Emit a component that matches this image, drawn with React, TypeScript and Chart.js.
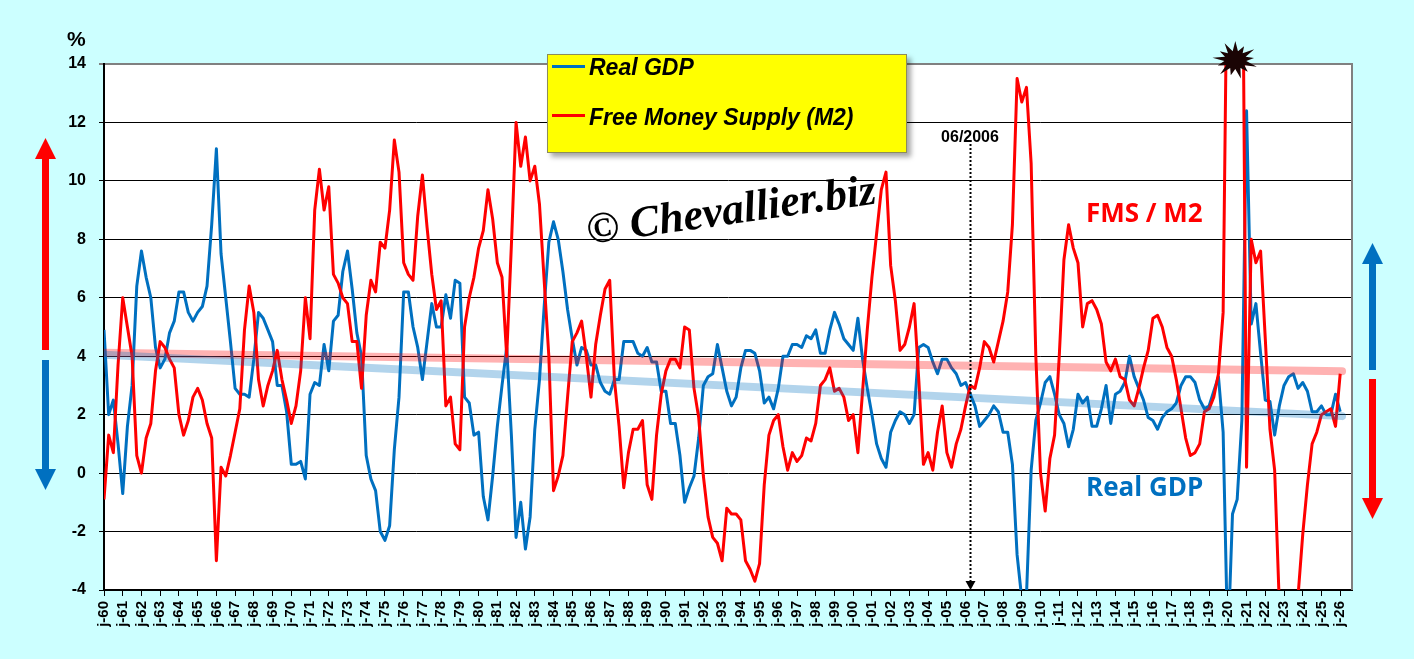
import { Chart, registerables } from "chart.js";
import { useEffect, useRef } from "react";

Chart.register(...registerables);

// Year-on-year growth in %, one reading per quarter, first reading = Q1 1960
const FIRST_YEAR = 1960;
const STEP = 0.25;

const gdp1960s = [
  4.9, 2.0, 2.5, 1.0, -0.7, 1.6, 3.0, 6.4, 7.6, 6.7, 6.0, 4.3, 3.6, 3.9, 4.8, 5.2, 6.2, 6.2, 5.5, 5.2,
  5.5, 5.7, 6.4, 8.5, 11.1, 7.5, 6.0, 4.5, 2.9, 2.7, 2.7, 2.6, 3.9, 5.5, 5.3, 4.9, 4.5, 3.0, 3.0, 2.1,
];
const gdp1970s = [
  0.3, 0.3, 0.4, -0.2, 2.7, 3.1, 3.0, 4.4, 3.5, 5.2, 5.4, 6.9, 7.6, 6.3, 4.8, 4.0, 0.6, -0.2, -0.6, -2.0,
  -2.3, -1.8, 0.8, 2.6, 6.2, 6.2, 5.0, 4.3, 3.2, 4.5, 5.8, 5.0, 5.0, 6.1, 5.3, 6.6, 6.5, 2.6, 2.4, 1.3,
];
const gdp1980s = [
  1.4, -0.8, -1.6, -0.1, 1.6, 3.0, 4.3, 1.3, -2.2, -1.0, -2.6, -1.5, 1.5, 3.2, 5.7, 7.9, 8.6, 8.0, 6.9, 5.6,
  4.6, 3.7, 4.3, 4.2, 3.7, 3.7, 3.1, 2.8, 2.7, 3.2, 3.2, 4.5, 4.5, 4.5, 4.1, 4.0, 4.3, 3.8, 3.8, 2.8,
];
const gdp1990s = [
  2.8, 1.7, 1.7, 0.6, -1.0, -0.5, -0.1, 1.2, 3.0, 3.3, 3.4, 4.4, 3.6, 2.8, 2.3, 2.6, 3.6, 4.2, 4.2, 4.1,
  3.5, 2.4, 2.6, 2.2, 2.9, 4.0, 4.0, 4.4, 4.4, 4.3, 4.7, 4.6, 4.9, 4.1, 4.1, 4.9, 5.5, 5.1, 4.6, 4.4,
];
const gdp2000s = [
  4.2, 5.3, 3.9, 2.9, 2.0, 1.0, 0.5, 0.2, 1.4, 1.8, 2.1, 2.0, 1.7, 2.0, 4.3, 4.4, 4.3, 3.8, 3.4, 3.9,
  3.9, 3.6, 3.4, 3.0, 3.1, 2.7, 2.3, 1.6, 1.8, 2.0, 2.3, 2.1, 1.4, 1.4, 0.3, -2.8, -4.3, -4.2, 0.1, 1.8,
];
const gdp2010s = [
  2.4, 3.1, 3.3, 2.7, 2.0, 1.7, 0.9, 1.5, 2.7, 2.4, 2.6, 1.6, 1.6, 2.2, 3.0, 1.7, 2.7, 2.8, 3.1, 4.0,
  3.3, 2.9, 2.5, 1.9, 1.8, 1.5, 1.9, 2.1, 2.2, 2.4, 3.0, 3.3, 3.3, 3.1, 2.5, 2.2, 2.3, 2.8, 3.3, 1.4,
];
const gdp2020s = [
  -6.0, -1.4, -0.9, 1.8, 12.4, 5.1, 5.8, 4.1, 2.5, 2.45, 1.3, 2.3, 3.0, 3.3, 3.4, 2.9, 3.1, 2.8, 2.1, 2.1,
  2.3, 2.0, 2.0, 2.7, 2.1,
];

const m21960s = [
  -0.9, 1.3, 0.7, 3.7, 6.0, 5.0, 4.0, 0.6, 0.0, 1.2, 1.7, 3.5, 4.5, 4.3, 3.9, 3.6, 2.0, 1.3, 1.8, 2.6,
  2.9, 2.5, 1.7, 1.2, -3.0, 0.2, -0.1, 0.6, 1.4, 2.2, 4.9, 6.4, 5.5, 3.2, 2.3, 3.0, 3.5, 4.2, 3.2, 2.5,
];
const m21970s = [
  1.7, 2.3, 3.5, 6.0, 4.6, 9.0, 10.4, 9.0, 9.8, 6.8, 6.5, 6.0, 5.8, 4.5, 4.5, 2.9, 5.4, 6.6, 6.2, 7.9,
  7.7, 9.0, 11.4, 10.3, 7.2, 6.8, 6.6, 8.8, 10.2, 8.4, 6.8, 5.6, 5.9, 2.3, 2.6, 1.0, 0.8, 5.0, 6.0, 6.7,
];
const m21980s = [
  7.7, 8.3, 9.7, 8.7, 7.2, 6.7, 4.0, 7.8, 12.0, 10.5, 11.5, 10.0, 10.5, 9.2, 6.6, 4.0, -0.6, -0.1, 0.6, 2.6,
  4.5, 4.8, 5.2, 4.0, 2.6, 4.4, 5.4, 6.3, 6.6, 3.2, 1.6, -0.5, 0.7, 1.5, 1.5, 1.8, -0.4, -0.9, 1.3, 2.7,
];
const m21990s = [
  3.5, 3.9, 3.9, 3.6, 5.0, 4.9, 2.9, 1.9, -0.1, -1.5, -2.2, -2.4, -3.0, -1.2, -1.4, -1.4, -1.6, -3.0, -3.3, -3.7,
  -3.1, -0.4, 1.3, 1.8, 2.0, 0.9, 0.1, 0.7, 0.4, 0.6, 1.2, 1.1, 1.7, 3.0, 3.2, 3.6, 2.8, 2.9, 2.6, 1.8,
];
const m22000s = [
  2.0, 0.7, 2.8, 4.9, 6.7, 8.2, 9.7, 10.3, 7.1, 5.9, 4.2, 4.4, 5.0, 5.8, 3.2, 0.3, 0.7, 0.1, 1.4, 2.3,
  0.7, 0.2, 1.0, 1.5, 2.3, 3.0, 2.9, 3.6, 4.5, 4.3, 3.8, 4.5, 5.2, 6.2, 8.5, 13.5, 12.7, 13.2, 10.6, 4.0,
];
const m22010s = [
  0.0, -1.3, 0.5, 1.3, 4.0, 7.3, 8.5, 7.7, 7.2, 5.0, 5.8, 5.9, 5.6, 5.1, 3.8, 3.5, 3.9, 3.3, 3.2, 2.5,
  2.3, 2.9, 3.6, 4.2, 5.3, 5.4, 5.0, 4.3, 4.0, 3.2, 2.2, 1.2, 0.6, 0.7, 1.0, 2.1, 2.2, 2.6, 3.4, 5.5,
];
const m22020s = [
  20.0, 25.0, 24.0, 22.0, 0.2, 8.0, 7.2, 7.6, 4.6, 1.5, 0.1, -4.5, -8.0, -10.0, -8.0, -4.2, -2.1, -0.4, 1.0, 1.4,
  2.0, 2.1, 2.2, 1.6, 3.4,
];

// long-run trend lines (start / end)
const trendYears = [1960, 2026.1];
const gdpTrend = [4.05, 1.95];
const m2Trend = [4.12, 3.49];

const X_MIN = 1960;
const X_MAX = 2026.63;
const Y_MIN = -4;
const Y_MAX = 14;
const Y_STEP = 2;

const MARK_YEAR = 2006.25;
const MARK_LABEL = "06/2006";
const STAR_YEAR = 2020.4;

const BLUE = "#0070C0";
const RED = "#FF0000";
const SANS = "'Liberation Sans', Arial, sans-serif";

const toPoints = (values: number[]) => values.map((y, i) => ({ x: FIRST_YEAR + i * STEP, y }));
const trendPoints = (values: number[]) => values.map((y, i) => ({ x: trendYears[i], y }));

function drawArrow(ctx: CanvasRenderingContext2D, x: number, tail: number, tip: number, color: string) {
  const dir = tip < tail ? -1 : 1;
  const base = tip - dir * 21;
  ctx.fillStyle = color;
  ctx.fillRect(x - 3.5, Math.min(tail, base), 7, Math.abs(base - tail));
  ctx.beginPath();
  ctx.moveTo(x - 10.5, base);
  ctx.lineTo(x + 10.5, base);
  ctx.lineTo(x, tip);
  ctx.closePath();
  ctx.fill();
}

const decorations = {
  id: "decorations",
  beforeDraw(chart: any) {
    const { ctx, chartArea: a } = chart;
    ctx.save();
    ctx.fillStyle = "#ffffff";
    ctx.fillRect(a.left, a.top, a.right - a.left, a.bottom - a.top);
    ctx.restore();
  },
  afterDraw(chart: any) {
    const { ctx, chartArea: a, scales } = chart;
    ctx.save();

    // grey frame on the right
    ctx.strokeStyle = "#808080";
    ctx.lineWidth = 2;
    ctx.beginPath();
    ctx.moveTo(a.right, a.top - 1);
    ctx.lineTo(a.right, a.bottom);
    ctx.stroke();

    // 06/2006 dotted marker
    const mx = Math.round(scales.x.getPixelForValue(MARK_YEAR)) + 0.5;
    ctx.strokeStyle = "#000";
    ctx.lineWidth = 2;
    ctx.setLineDash([2, 2]);
    ctx.beginPath();
    ctx.moveTo(mx, a.top + 76);
    ctx.lineTo(mx, a.bottom - 8);
    ctx.stroke();
    ctx.setLineDash([]);
    ctx.fillStyle = "#000";
    ctx.beginPath();
    ctx.moveTo(mx - 5, a.bottom - 9);
    ctx.lineTo(mx + 5, a.bottom - 9);
    ctx.lineTo(mx, a.bottom);
    ctx.closePath();
    ctx.fill();

    // side arrows
    drawArrow(ctx, 45.5, 350, 138, RED);
    drawArrow(ctx, 45.5, 360, 490, BLUE);
    drawArrow(ctx, 1372.5, 370, 243, BLUE);
    drawArrow(ctx, 1372.5, 379, 519, RED);

    // burst where M2 leaves the scale
    const cx = scales.x.getPixelForValue(STAR_YEAR);
    const cy = a.top - 4;
    const spikes = 13;
    ctx.beginPath();
    for (let i = 0; i < spikes * 2; i++) {
      const ang = (Math.PI * i) / spikes - Math.PI / 2;
      const r = i % 2 === 0 ? (i % 4 === 0 ? 1 : 0.82) : 0.48;
      ctx.lineTo(cx + Math.cos(ang) * 23 * r, cy + Math.sin(ang) * 19 * r);
    }
    ctx.closePath();
    ctx.fillStyle = "#1a0404";
    ctx.fill();

    ctx.restore();
  },
};

const abs = (style: any): any => ({ position: "absolute", lineHeight: 1, whiteSpace: "nowrap", pointerEvents: "none", ...style });

export default function App() {
  const canvasRef = useRef<HTMLCanvasElement>(null);

  useEffect(() => {
    document.body.style.margin = "0";
    document.body.style.background = "#CCFFFF";
    if (!canvasRef.current) return;

    const gdp = [...gdp1960s, ...gdp1970s, ...gdp1980s, ...gdp1990s, ...gdp2000s, ...gdp2010s, ...gdp2020s];
    const m2 = [...m21960s, ...m21970s, ...m21980s, ...m21990s, ...m22000s, ...m22010s, ...m22020s];

    const config: any = {
      type: "line",
      data: {
        datasets: [
          {
            label: "Real GDP trend",
            data: trendPoints(gdpTrend),
            borderColor: "rgba(0,112,192,0.3)",
            borderWidth: 8,
            borderCapStyle: "round",
            pointRadius: 0,
            order: 0,
          },
          {
            label: "M2 trend",
            data: trendPoints(m2Trend),
            borderColor: "rgba(255,0,0,0.3)",
            borderWidth: 8,
            borderCapStyle: "round",
            pointRadius: 0,
            order: 0,
          },
          {
            label: "Free Money Supply (M2)",
            data: toPoints(m2),
            borderColor: RED,
            borderWidth: 3,
            borderJoinStyle: "round",
            pointRadius: 0,
            order: 1,
          },
          {
            label: "Real GDP",
            data: toPoints(gdp),
            borderColor: BLUE,
            borderWidth: 3,
            borderJoinStyle: "round",
            pointRadius: 0,
            order: 2,
          },
        ],
      },
      options: {
        animation: false,
        responsive: false,
        events: [],
        layout: { padding: { top: 64, right: 62, left: 0, bottom: 0 } },
        plugins: { legend: { display: false }, tooltip: { enabled: false } },
        scales: {
          x: {
            type: "linear",
            min: X_MIN,
            max: X_MAX,
            afterFit: (s: any) => {
              s.height = 69;
            },
            ticks: {
              stepSize: 1,
              includeBounds: false,
              maxTicksLimit: 100,
              autoSkip: false,
              minRotation: 90,
              maxRotation: 90,
              padding: 5,
              color: "#000",
              font: { family: SANS, size: 15, weight: "bold" },
              callback: (v: number) => "j-" + String(Math.round(v) % 100).padStart(2, "0"),
            },
            grid: { drawOnChartArea: false, drawTicks: true, tickLength: 6, color: "#000" },
            border: { color: "#000", width: 2 },
          },
          y: {
            min: Y_MIN,
            max: Y_MAX,
            afterFit: (s: any) => {
              s.width = 104;
            },
            ticks: {
              stepSize: Y_STEP,
              padding: 13,
              color: "#000",
              font: { family: SANS, size: 16, weight: "bold" },
            },
            grid: {
              color: (c: any) => (c.tick && c.tick.value === Y_MAX ? "#808080" : "#000"),
              lineWidth: (c: any) => (c.tick && c.tick.value === Y_MAX ? 2 : 1),
              tickLength: 5,
            },
            border: { color: "#000", width: 2 },
          },
        },
      },
      plugins: [decorations],
    };

    const chart = new Chart(canvasRef.current, config);
    return () => chart.destroy();
  }, []);

  return (
    <div style={{ position: "relative", width: 1414, height: 659, background: "#CCFFFF", overflow: "hidden" }}>
      <canvas ref={canvasRef} width={1414} height={659} style={{ position: "absolute", left: 0, top: 0 }} />

      <div style={abs({ left: 67, top: 27, font: `bold 21px ${SANS}` })}>%</div>

      <div
        style={{
          position: "absolute",
          left: 547,
          top: 54,
          width: 358,
          height: 97,
          background: "#FFFF00",
          border: "1px solid #8c8c5a",
          boxShadow: "4px 4px 5px rgba(0,0,0,0.35)",
        }}
      >
        <div style={abs({ left: 4, top: 10, width: 33, height: 3, background: BLUE })} />
        <div style={abs({ left: 41, top: -1, font: `italic bold 23px ${SANS}` })}>Real GDP</div>
        <div style={abs({ left: 4, top: 59, width: 33, height: 3, background: RED })} />
        <div style={abs({ left: 41, top: 49, font: `italic bold 23px ${SANS}` })}>Free Money Supply (M2)</div>
      </div>

      <div
        style={abs({
          left: 588,
          top: 204,
          font: `italic bold 44px 'Liberation Serif', 'DejaVu Serif', serif`,
          transform: "rotate(-8deg)",
          transformOrigin: "0 37px",
        })}
      >
        © Chevallier.biz
      </div>

      <div style={abs({ left: 1086, top: 194, font: `bold 26px 'Open Sans', sans-serif`, color: RED })}>FMS / M2</div>
      <div style={abs({ left: 1086, top: 468, font: `bold 26px 'Open Sans', sans-serif`, color: BLUE })}>Real GDP</div>

      <div style={abs({ left: 920, top: 128, width: 100, textAlign: "center", font: `bold 16px ${SANS}` })}>
        {MARK_LABEL}
      </div>
    </div>
  );
}
